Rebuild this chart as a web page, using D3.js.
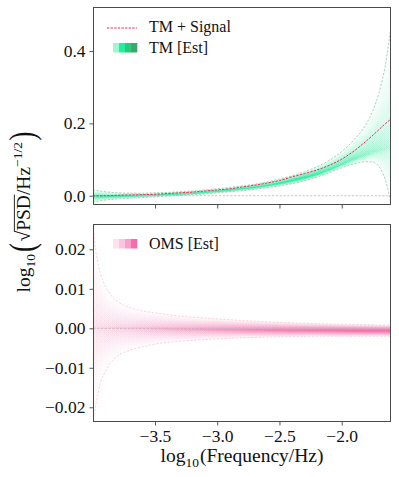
<!DOCTYPE html>
<html>
<head>
<meta charset="utf-8">
<script src="https://cdn.jsdelivr.net/npm/d3@7"></script>
<style>
  html, body { margin: 0; padding: 0; background: #fff; }
  svg { display: block; }
  text { font-family: "Liberation Serif", "Times New Roman", serif; fill: #111; }
</style>
</head>
<body>
<script>
// ---------------- DATA ----------------
const tmFreq   = [-4.0,-3.9,-3.8,-3.7,-3.6,-3.5,-3.4,-3.3,-3.2,-3.1,-3.0,-2.9,-2.8,-2.7,-2.6,-2.5,-2.4,-2.3,-2.2,-2.1,-2.0,-1.9,-1.8,-1.75,-1.7,-1.65,-1.6];
const tmSignal = [0.000,0.000,0.001,0.002,0.003,0.004,0.006,0.008,0.010,0.013,0.016,0.019,0.024,0.029,0.035,0.042,0.052,0.061,0.071,0.084,0.101,0.124,0.152,0.167,0.183,0.199,0.213];
const tmMedian = [-0.003,-0.003,-0.002,-0.001,0.000,0.001,0.003,0.004,0.006,0.009,0.012,0.015,0.019,0.023,0.028,0.034,0.042,0.050,0.059,0.071,0.086,0.101,0.114,0.121,0.127,0.133,0.139];
const tmUpper  = [0.016,0.011,0.008,0.007,0.007,0.008,0.009,0.011,0.013,0.016,0.019,0.023,0.027,0.032,0.038,0.046,0.055,0.066,0.080,0.098,0.122,0.155,0.200,0.235,0.285,0.360,0.480];
const tmLower  = [-0.018,-0.012,-0.009,-0.007,-0.005,-0.003,-0.001,0.001,0.003,0.005,0.008,0.011,0.014,0.018,0.022,0.027,0.033,0.041,0.051,0.064,0.077,0.088,0.094,0.093,0.080,0.045,-0.030];

const omsFreq   = [-3.995,-3.97,-3.94,-3.9,-3.85,-3.8,-3.7,-3.6,-3.5,-3.3,-3.0,-2.7,-2.4,-2.1,-1.8,-1.6];
const omsMedian = [0.0002,0.0002,0.0002,0.0001,0.0001,0.0001,0.0000,0.0000,-0.0001,-0.0002,-0.0003,-0.0004,-0.0005,-0.0005,-0.0006,-0.0006];
const omsUpper  = [0.025,0.0185,0.0140,0.0108,0.0082,0.0068,0.0052,0.0044,0.0039,0.0031,0.0024,0.0018,0.0014,0.0011,0.0009,0.0008];
const omsLower  = [-0.023,-0.0185,-0.0140,-0.0110,-0.0085,-0.0070,-0.0055,-0.0047,-0.0040,-0.0033,-0.0027,-0.0023,-0.0021,-0.0020,-0.0020,-0.0020];

const xTicks = [-3.5, -3.0, -2.5, -2.0];
const topYTicks = [0.0, 0.2, 0.4];
const botYTicks = [-0.02, -0.01, 0.00, 0.01, 0.02];

const legendTop = ["TM + Signal", "TM [Est]"];
const legendBot = ["OMS [Est]"];
const tmPatchColors  = ["#a3f4d3", "#1ff29c", "#2cc97d", "#3aa96c"];
const omsPatchColors = ["#fde2ef", "#fbc5de", "#f8a0ca", "#f46cae"];

// ---------------- LAYOUT ----------------
const W = 399, H = 477;
const svg = d3.select("body").append("svg").attr("width", W).attr("height", H);

const x = d3.scaleLinear().domain([-3.994, -1.608]).range([93.5, 390.5]);
const yTop = d3.scaleLinear().domain([-0.0243, 0.5203]).range([204.5, 7.5]);
const yBot = d3.scaleLinear().domain([-0.0236, 0.02628]).range([421.5, 224.5]);

const defs = svg.append("defs");
function clip(id, y) {
  defs.append("clipPath").attr("id", id).append("rect")
    .attr("x", x.range()[0]).attr("y", y.range()[1])
    .attr("width", x.range()[1] - x.range()[0]).attr("height", y.range()[0] - y.range()[1]);
}
clip("clipTop", yTop);
clip("clipBot", yBot);

function opacityGradient(id, color, stops) {
  const g = defs.append("linearGradient").attr("id", id)
    .attr("gradientUnits", "userSpaceOnUse")
    .attr("x1", x.range()[0]).attr("x2", x.range()[1]).attr("y1", 0).attr("y2", 0);
  const [a, b] = x.domain();
  stops.forEach(([f, o]) => {
    g.append("stop").attr("offset", (f - a) / (b - a)).attr("stop-color", color).attr("stop-opacity", o);
  });
}
opacityGradient("gradTM", "#00e890", [[-3.994, 0.07], [-3.7, 0.10], [-2.3, 0.11], [-2.05, 0.07], [-1.85, 0.04], [-1.608, 0.018]]);
opacityGradient("gradOMS", "#f0589b", [[-3.994, 0.012], [-3.7, 0.022], [-3.4, 0.035], [-3.0, 0.055], [-2.5, 0.085], [-2.0, 0.11], [-1.608, 0.12]]);

function fan(g, xs, med, lo, hi, y, grad, N, gamma, stepT) {
  const idx = d3.range(xs.length);
  for (let k = N; k >= 1; k--) {
    const t = Math.pow(k / N, gamma);
    const area = d3.area()
      .x(i => x(xs[i]))
      .y0(i => y(med[i] + (lo[i] - med[i]) * t))
      .y1(i => y(med[i] + (hi[i] - med[i]) * t))
      .curve(t < stepT ? d3.curveStepAfter : d3.curveMonotoneX);
    g.append("path").attr("d", area(idx)).attr("fill", `url(#${grad})`).attr("stroke", "none");
  }
}
function line(g, xs, ys, y, color, width, dash, opacity) {
  const l = d3.line().x(i => x(xs[i])).y(i => y(ys[i])).curve(d3.curveMonotoneX);
  g.append("path").attr("d", l(d3.range(xs.length)))
    .attr("fill", "none").attr("stroke", color).attr("stroke-width", width)
    .attr("stroke-dasharray", dash).attr("opacity", opacity);
}
function zeroLine(g, y) {
  g.append("line").attr("x1", x.range()[0]).attr("x2", x.range()[1])
    .attr("y1", y(0)).attr("y2", y(0))
    .attr("stroke", "#b8b8b8").attr("stroke-width", 0.8).attr("stroke-dasharray", "2.2,1.6");
}

// ---------------- TOP PANEL ----------------
const gTop = svg.append("g").attr("clip-path", "url(#clipTop)");
fan(gTop, tmFreq, tmMedian, tmLower, tmUpper, yTop, "gradTM", 22, 2.8, 0.05);
line(gTop, tmFreq, tmUpper, yTop, "#7fb39a", 0.8, "2.2,1.6", 0.8);
line(gTop, tmFreq, tmLower, yTop, "#7fb39a", 0.8, "2.2,1.6", 0.8);
zeroLine(gTop, yTop);
line(gTop, tmFreq, tmSignal, yTop, "#ee2f57", 1.0, "2.4,1.2", 1);

// ---------------- BOTTOM PANEL ----------------
const gBot = svg.append("g").attr("clip-path", "url(#clipBot)");
fan(gBot, omsFreq, omsMedian, omsLower, omsUpper, yBot, "gradOMS", 20, 2.2, 0);
line(gBot, omsFreq, omsUpper, yBot, "#f8bfd7", 0.8, "2.2,1.6", 0.9);
line(gBot, omsFreq, omsLower, yBot, "#f8bfd7", 0.8, "2.2,1.6", 0.9);
zeroLine(gBot, yBot);

// ---------------- AXES ----------------
function styleAxis(g, fs) {
  g.attr("font-family", null);
  g.select(".domain").remove();
  g.selectAll(".tick line").attr("stroke", "#444").attr("stroke-width", 0.9);
  g.selectAll(".tick text").attr("font-size", fs).attr("fill", "#111")
    .style("font-family", "'Liberation Serif', serif");
}
const fmt1 = d3.format(".1f"), fmt2 = d3.format(".2f");
styleAxis(svg.append("g").attr("transform", `translate(${x.range()[0]},0)`)
  .call(d3.axisLeft(yTop).tickValues(topYTicks).tickFormat(fmt1).tickSize(4).tickPadding(4)), 17.5);
styleAxis(svg.append("g").attr("transform", `translate(${x.range()[0]},0)`)
  .call(d3.axisLeft(yBot).tickValues(botYTicks).tickFormat(fmt2).tickSize(4).tickPadding(4)), 17.5);
styleAxis(svg.append("g").attr("transform", `translate(0,${yTop.range()[0]})`)
  .call(d3.axisBottom(x).tickValues(xTicks).tickFormat("").tickSize(4)), 17.5);
styleAxis(svg.append("g").attr("transform", `translate(0,${yBot.range()[0]})`)
  .call(d3.axisBottom(x).tickValues(xTicks).tickFormat(fmt1).tickSize(4).tickPadding(4)), 17.5);

// frames
[yTop, yBot].forEach(y => {
  svg.append("rect").attr("x", x.range()[0]).attr("y", y.range()[1])
    .attr("width", x.range()[1] - x.range()[0]).attr("height", y.range()[0] - y.range()[1])
    .attr("fill", "none").attr("stroke", "#4a4a4a").attr("stroke-width", 1);
});

// ---------------- LEGENDS ----------------
function patch(y0, colors) {
  const pw = 24 / colors.length;
  colors.forEach((c, i) => {
    svg.append("rect").attr("x", 113 + i * pw).attr("y", y0).attr("width", pw + 0.3).attr("height", 9.5).attr("fill", c);
  });
}
svg.append("line").attr("x1", 107).attr("x2", 137).attr("y1", 28).attr("y2", 28)
  .attr("stroke", "#ee2f57").attr("stroke-width", 1).attr("stroke-dasharray", "2.4,1.2");
svg.append("text").attr("x", 149).attr("y", 32).attr("font-size", 16).text(legendTop[0]);
patch(43, tmPatchColors);
svg.append("text").attr("x", 149).attr("y", 52.5).attr("font-size", 16).text(legendTop[1]);
patch(239, omsPatchColors);
svg.append("text").attr("x", 149).attr("y", 249).attr("font-size", 16).text(legendBot[0]);

// ---------------- AXIS LABELS ----------------
function richLabel(g, pieces) {
  let u = 0;
  const items = [];
  pieces.forEach(p => {
    const t = g.append("text").attr("x", u).attr("y", p.dy || 0).attr("font-size", p.fs).text(p.t);
    if (p.sx) t.attr("transform", `translate(${u},0) scale(${p.sx},1) translate(${-u},0)`);
    const w = t.node().getComputedTextLength() * (p.sx || 1);
    items.push({ node: t, u, w, p });
    u += w + (p.gap || 0);
  });
  items.forEach(it => {
    if (it.p.over) {
      g.append("line").attr("x1", it.u - 1).attr("x2", it.u + it.w + 0.5)
        .attr("y1", -it.p.fs * 0.8).attr("y2", -it.p.fs * 0.8)
        .attr("stroke", "#111").attr("stroke-width", 0.9);
    }
  });
  return u;
}
// y label
const gy = svg.append("g");
const gyi = gy.append("g");
const wy = richLabel(gyi, [
  { t: "log", fs: 19.5 },
  { t: "10", fs: 13.5, dy: 5, gap: 2 },
  { t: "(", fs: 36, dy: 4, sx: 0.75, gap: 1.5 },
  { t: "√", fs: 19.5 },
  { t: "PSD", fs: 19.5, over: true },
  { t: "/Hz", fs: 19.5 },
  { t: "−1/2", fs: 13.5, dy: -8, gap: 1.5 },
  { t: ")", fs: 36, dy: 4, sx: 0.75 }
]);
gyi.attr("transform", `translate(${-wy / 2},0)`);
gy.attr("transform", "translate(30,212) rotate(-90)");

// x label
const gx = svg.append("g");
const gxi = gx.append("g");
const wx = richLabel(gxi, [
  { t: "log", fs: 19.5 },
  { t: "10", fs: 13.5, dy: 5, gap: 1 },
  { t: "(Frequency/Hz)", fs: 19.5 }
]);
gxi.attr("transform", `translate(${-wx / 2},0)`);
gx.attr("transform", "translate(242,462)");
</script>
</body>
</html>
